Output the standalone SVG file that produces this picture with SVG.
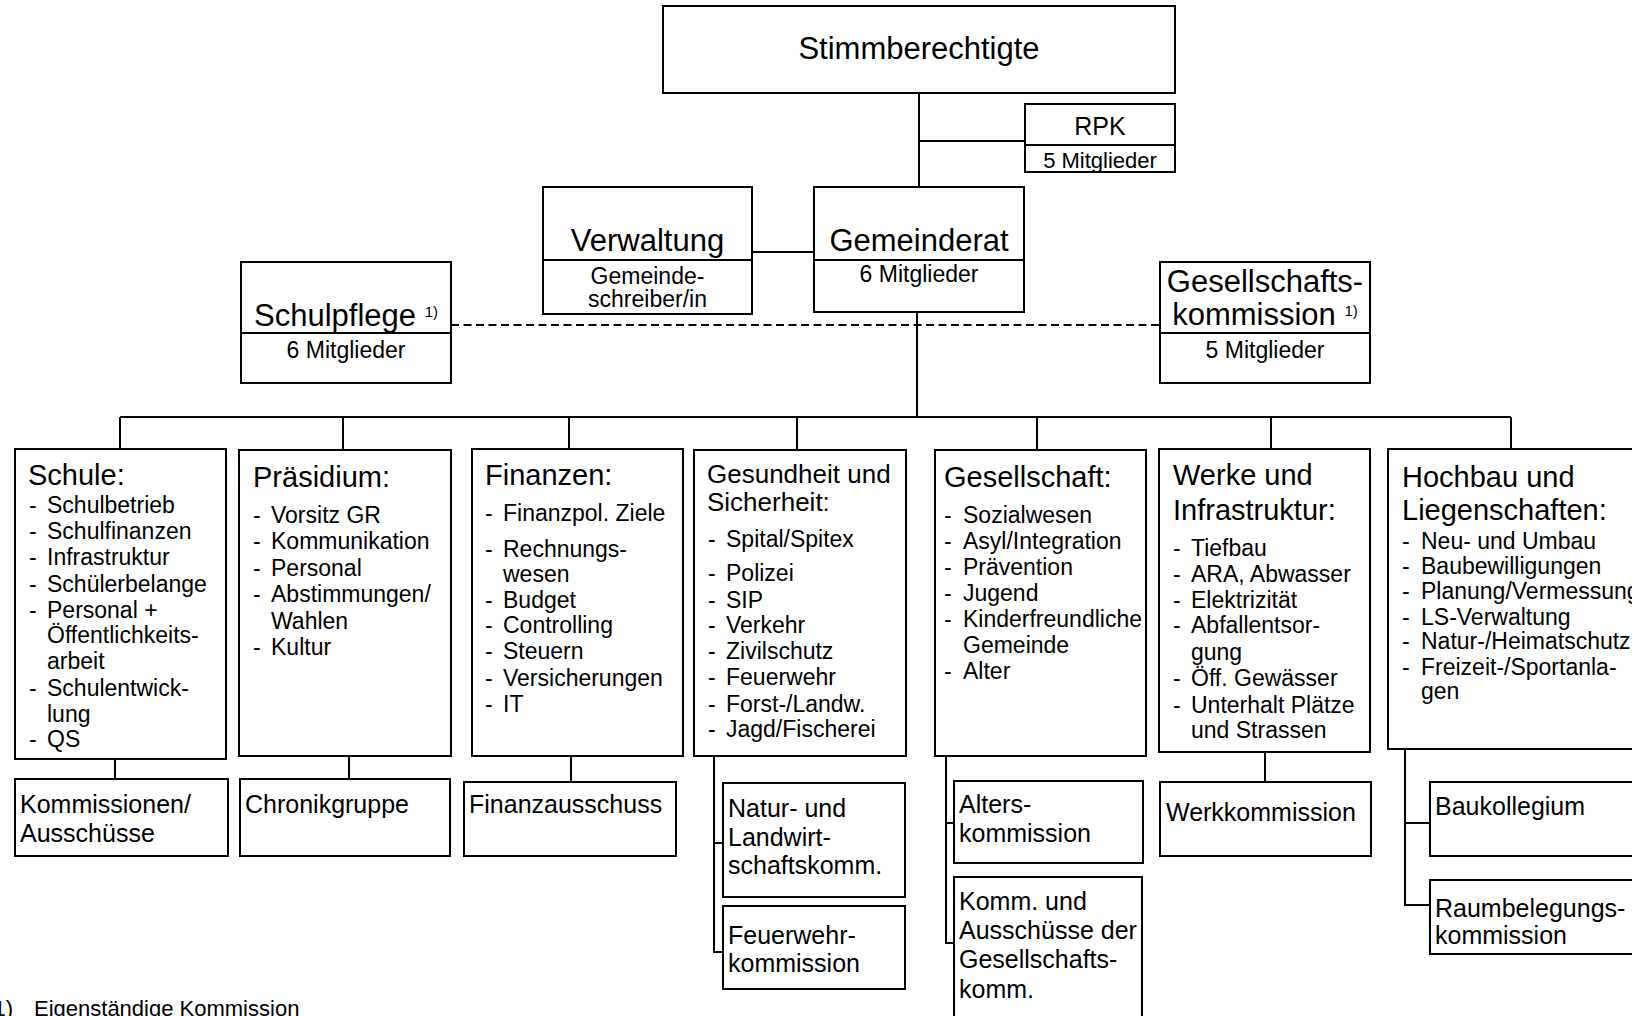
<svg xmlns="http://www.w3.org/2000/svg" width="1632" height="1016" viewBox="0 0 1632 1016">
<style>
text{font-family:"Liberation Sans",Arial,sans-serif;fill:#000}
.box{fill:#fff;stroke:#000;stroke-width:2}
.div{stroke:#000;stroke-width:2}
.conn path{fill:none;stroke:#000;stroke-width:2}
.dash{stroke-dasharray:8 4.5}
.t1{font-size:31px;text-anchor:middle}
.sub{font-size:23px;text-anchor:middle}
.hd{font-size:29px}
.hd2{font-size:26px}
.li{font-size:23px}
.sb{font-size:25px}
.sup{font-size:15px}
</style>

<g id="connectors" class="conn">
<path d="M919 93V187M919 141H1025"/>
<path d="M752 252H814"/>
<path class="dash" d="M451 325H1160"/>
<path d="M917 312V417M120 417H1511"/>
<path d="M120 417V449M343 417V450M569 417V449M797 417V450M1037 417V450M1271 417V449M1511 417V449"/>
<path d="M115 759V779M349 756V779M571 756V782"/>
<path d="M714 756V952H723M714 843H723"/>
<path d="M946 756V943H954M946 823H954"/>
<path d="M1265 752V782"/>
<path d="M1405 749V905H1430M1405 823H1430"/>
</g>

<g id="stimmberechtigte">
<rect class="box" x="663" y="6" width="512" height="87"/>
<text class="t1" x="919" y="59">Stimmberechtigte</text>
</g>

<g id="rpk">
<rect class="box" x="1025" y="104" width="150" height="68"/>
<line class="div" x1="1025" y1="145" x2="1175" y2="145"/>
<text x="1100" y="135" style="font-size:25px;text-anchor:middle">RPK</text>
<text x="1100" y="168" style="font-size:22px;text-anchor:middle">5 Mitglieder</text>
</g>

<g id="verwaltung">
<rect class="box" x="543" y="187" width="209" height="127"/>
<line class="div" x1="543" y1="260" x2="752" y2="260"/>
<text class="t1" x="647.5" y="251">Verwaltung</text>
<text class="sub" x="647.5" y="284">Gemeinde-</text>
<text class="sub" x="647.5" y="307">schreiber/in</text>
</g>

<g id="gemeinderat">
<rect class="box" x="814" y="187" width="210" height="125"/>
<line class="div" x1="814" y1="260" x2="1024" y2="260"/>
<text class="t1" x="919" y="251">Gemeinderat</text>
<text class="sub" x="919" y="282">6 Mitglieder</text>
</g>

<g id="schulpflege">
<rect class="box" x="241" y="262" width="210" height="121"/>
<line class="div" x1="241" y1="333" x2="451" y2="333"/>
<text class="t1" x="346" y="326">Schulpflege <tspan class="sup" dy="-9">1)</tspan></text>
<text class="sub" x="346" y="358">6 Mitglieder</text>
</g>

<g id="gesellschaftskommission">
<rect class="box" x="1160" y="262" width="210" height="121"/>
<line class="div" x1="1160" y1="333" x2="1370" y2="333"/>
<text class="t1" x="1265" y="292">Gesellschafts-</text>
<text class="t1" x="1265" y="325">kommission <tspan class="sup" dy="-9">1)</tspan></text>
<text class="sub" x="1265" y="358">5 Mitglieder</text>
</g>

<g id="schule">
<rect class="box" x="15" y="449" width="211" height="310"/>
<text class="hd" x="28" y="485">Schule:</text>
<text class="li">
<tspan x="29" y="513">-</tspan><tspan x="47" y="513">Schulbetrieb</tspan>
<tspan x="29" y="539">-</tspan><tspan x="47" y="539">Schulfinanzen</tspan>
<tspan x="29" y="565">-</tspan><tspan x="47" y="565">Infrastruktur</tspan>
<tspan x="29" y="592">-</tspan><tspan x="47" y="592">Schülerbelange</tspan>
<tspan x="29" y="618">-</tspan><tspan x="47" y="618">Personal +</tspan>
<tspan x="47" y="643">Öffentlichkeits-</tspan>
<tspan x="47" y="669">arbeit</tspan>
<tspan x="29" y="696">-</tspan><tspan x="47" y="696">Schulentwick-</tspan>
<tspan x="47" y="722">lung</tspan>
<tspan x="29" y="747">-</tspan><tspan x="47" y="747">QS</tspan>
</text>
</g>

<g id="praesidium">
<rect class="box" x="239" y="450" width="212" height="306"/>
<text class="hd" x="253" y="487">Präsidium:</text>
<text class="li">
<tspan x="253" y="523">-</tspan><tspan x="271" y="523">Vorsitz GR</tspan>
<tspan x="253" y="549">-</tspan><tspan x="271" y="549">Kommunikation</tspan>
<tspan x="253" y="576">-</tspan><tspan x="271" y="576">Personal</tspan>
<tspan x="253" y="602">-</tspan><tspan x="271" y="602">Abstimmungen/</tspan>
<tspan x="271" y="629">Wahlen</tspan>
<tspan x="253" y="655">-</tspan><tspan x="271" y="655">Kultur</tspan>
</text>
</g>

<g id="finanzen">
<rect class="box" x="472" y="449" width="211" height="307"/>
<text class="hd" x="485" y="485">Finanzen:</text>
<text class="li">
<tspan x="485" y="521">-</tspan><tspan x="503" y="521">Finanzpol. Ziele</tspan>
<tspan x="485" y="557">-</tspan><tspan x="503" y="557">Rechnungs-</tspan>
<tspan x="503" y="582">wesen</tspan>
<tspan x="485" y="608">-</tspan><tspan x="503" y="608">Budget</tspan>
<tspan x="485" y="633">-</tspan><tspan x="503" y="633">Controlling</tspan>
<tspan x="485" y="659">-</tspan><tspan x="503" y="659">Steuern</tspan>
<tspan x="485" y="686">-</tspan><tspan x="503" y="686">Versicherungen</tspan>
<tspan x="485" y="712">-</tspan><tspan x="503" y="712">IT</tspan>
</text>
</g>

<g id="gesundheit">
<rect class="box" x="694" y="450" width="212" height="306"/>
<text class="hd2" x="707" y="483">Gesundheit und</text>
<text class="hd2" x="707" y="511">Sicherheit:</text>
<text class="li">
<tspan x="708" y="547">-</tspan><tspan x="726" y="547">Spital/Spitex</tspan>
<tspan x="708" y="581">-</tspan><tspan x="726" y="581">Polizei</tspan>
<tspan x="708" y="608">-</tspan><tspan x="726" y="608">SIP</tspan>
<tspan x="708" y="633">-</tspan><tspan x="726" y="633">Verkehr</tspan>
<tspan x="708" y="659">-</tspan><tspan x="726" y="659">Zivilschutz</tspan>
<tspan x="708" y="685">-</tspan><tspan x="726" y="685">Feuerwehr</tspan>
<tspan x="708" y="712">-</tspan><tspan x="726" y="712">Forst-/Landw.</tspan>
<tspan x="708" y="737">-</tspan><tspan x="726" y="737">Jagd/Fischerei</tspan>
</text>
</g>

<g id="gesellschaft">
<rect class="box" x="935" y="450" width="211" height="306"/>
<text class="hd" x="944" y="487">Gesellschaft:</text>
<text class="li">
<tspan x="944" y="523">-</tspan><tspan x="963" y="523">Sozialwesen</tspan>
<tspan x="944" y="549">-</tspan><tspan x="963" y="549">Asyl/Integration</tspan>
<tspan x="944" y="575">-</tspan><tspan x="963" y="575">Prävention</tspan>
<tspan x="944" y="601">-</tspan><tspan x="963" y="601">Jugend</tspan>
<tspan x="944" y="627">-</tspan><tspan x="963" y="627">Kinderfreundliche</tspan>
<tspan x="963" y="653">Gemeinde</tspan>
<tspan x="944" y="679">-</tspan><tspan x="963" y="679">Alter</tspan>
</text>
</g>

<g id="werke">
<rect class="box" x="1159" y="449" width="211" height="303"/>
<text class="hd" x="1173" y="485">Werke und</text>
<text class="hd" x="1173" y="520">Infrastruktur:</text>
<text class="li">
<tspan x="1173" y="556">-</tspan><tspan x="1191" y="556">Tiefbau</tspan>
<tspan x="1173" y="582">-</tspan><tspan x="1191" y="582">ARA, Abwasser</tspan>
<tspan x="1173" y="608">-</tspan><tspan x="1191" y="608">Elektrizität</tspan>
<tspan x="1173" y="633">-</tspan><tspan x="1191" y="633">Abfallentsor-</tspan>
<tspan x="1191" y="660">gung</tspan>
<tspan x="1173" y="686">-</tspan><tspan x="1191" y="686">Öff. Gewässer</tspan>
<tspan x="1173" y="713">-</tspan><tspan x="1191" y="713">Unterhalt Plätze</tspan>
<tspan x="1191" y="738">und Strassen</tspan>
</text>
</g>

<g id="hochbau">
<rect class="box" x="1388" y="449" width="272" height="300"/>
<text class="hd" x="1402" y="487">Hochbau und</text>
<text class="hd" x="1402" y="520">Liegenschaften:</text>
<text class="li">
<tspan x="1402" y="549">-</tspan><tspan x="1421" y="549">Neu- und Umbau</tspan>
<tspan x="1402" y="574">-</tspan><tspan x="1421" y="574">Baubewilligungen</tspan>
<tspan x="1402" y="599">-</tspan><tspan x="1421" y="599">Planung/Vermessung</tspan>
<tspan x="1402" y="625">-</tspan><tspan x="1421" y="625">LS-Verwaltung</tspan>
<tspan x="1402" y="649">-</tspan><tspan x="1421" y="649">Natur-/Heimatschutz</tspan>
<tspan x="1402" y="675">-</tspan><tspan x="1421" y="675">Freizeit-/Sportanla-</tspan>
<tspan x="1421" y="699">gen</tspan>
</text>
</g>

<g id="kommissionen">
<rect class="box" x="15" y="779" width="213" height="77"/>
<text class="sb"><tspan x="20" y="813">Kommissionen/</tspan><tspan x="20" y="842">Ausschüsse</tspan></text>
</g>

<g id="chronikgruppe">
<rect class="box" x="240" y="779" width="210" height="77"/>
<text class="sb" x="245" y="813">Chronikgruppe</text>
</g>

<g id="finanzausschuss">
<rect class="box" x="464" y="782" width="212" height="74"/>
<text class="sb" x="469" y="813">Finanzausschuss</text>
</g>

<g id="naturkommission">
<rect class="box" x="723" y="783" width="182" height="114"/>
<text class="sb"><tspan x="728" y="817">Natur- und</tspan><tspan x="728" y="846">Landwirt-</tspan><tspan x="728" y="874">schaftskomm.</tspan></text>
</g>

<g id="feuerwehrkommission">
<rect class="box" x="723" y="906" width="182" height="83"/>
<text class="sb"><tspan x="728" y="944">Feuerwehr-</tspan><tspan x="728" y="972">kommission</tspan></text>
</g>

<g id="alterskommission">
<rect class="box" x="954" y="781" width="189" height="82"/>
<text class="sb"><tspan x="959" y="813">Alters-</tspan><tspan x="959" y="842">kommission</tspan></text>
</g>

<g id="gesellschaftsausschuesse">
<rect class="box" x="954" y="877" width="188" height="160"/>
<text class="sb"><tspan x="959" y="910">Komm. und</tspan><tspan x="959" y="939">Ausschüsse der</tspan><tspan x="959" y="968">Gesellschafts-</tspan><tspan x="959" y="998">komm.</tspan></text>
</g>

<g id="werkkommission">
<rect class="box" x="1160" y="782" width="211" height="74"/>
<text class="sb" x="1166" y="821">Werkkommission</text>
</g>

<g id="baukollegium">
<rect class="box" x="1430" y="782" width="230" height="74"/>
<text class="sb" x="1435" y="815">Baukollegium</text>
</g>

<g id="raumbelegungskommission">
<rect class="box" x="1430" y="880" width="230" height="74"/>
<text class="sb"><tspan x="1435" y="917">Raumbelegungs-</tspan><tspan x="1435" y="944">kommission</tspan></text>
</g>

<g id="footnote">
<text x="13" y="1016" style="font-size:22px;text-anchor:end">1)</text>
<text x="34" y="1016" style="font-size:22px">Eigenständige Kommission</text>
</g>
</svg>
